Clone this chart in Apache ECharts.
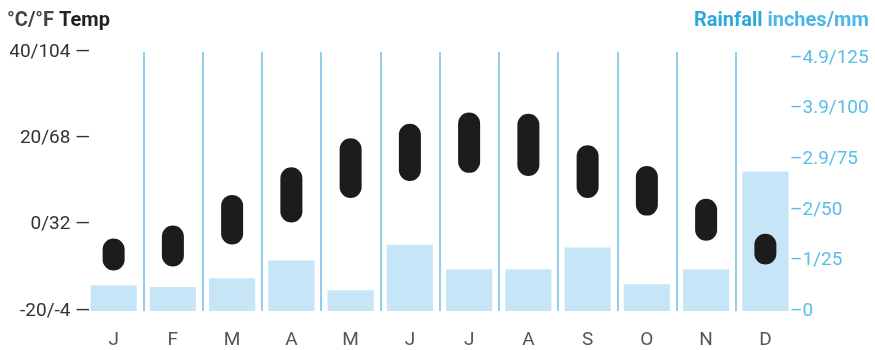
<!DOCTYPE html>
<html>
<head>
<meta charset="utf-8">
<script src="https://cdn.jsdelivr.net/npm/echarts@6/dist/echarts.min.js"></script>
<style>
  html, body { margin: 0; padding: 0; background: #fff; }
  #chart { width: 875px; height: 350px; }
</style>
</head>
<body>
<div id="chart"></div>
<script>
// months
const months = ['J', 'F', 'M', 'A', 'M', 'J', 'J', 'A', 'S', 'O', 'N', 'D'];
// temperature range, °C
const tempLow = [-10.6, -9.7, -4.6, 0.5, 6.2, 10.1, 12, 11.3, 6.2, 2.1, -3.7, -9.2];
const tempHigh = [-3.2, -0.2, 6.9, 13.3, 20, 23.4, 26, 25.7, 18.4, 13.6, 6, -2.1];
// rainfall, mm
const rainMm = [12.7, 11.8, 16.2, 25, 10.3, 32.8, 20.6, 20.6, 31.4, 13.2, 20.6, 69];
// tick labels
const tempTicksC = [-20, 0, 20, 40];
const tempTicksF = [-4, 32, 68, 104];
const rainTicksMm = [0, 25, 50, 75, 100, 125];
const rainTicksIn = ['0', '1', '2', '2.9', '3.9', '4.9'];

const font = 'Roboto, "Noto Sans", sans-serif';

const chart = echarts.init(document.getElementById('chart'));

chart.setOption({
  animation: false,
  title: [
    {
      left: 2,
      top: 6,
      text: '{a|°C/°F }{b|Temp}',
      textStyle: {
        rich: {
          a: { fontFamily: font, fontSize: 20, color: '#444' },
          b: { fontFamily: font, fontSize: 20, fontWeight: 'bold', color: '#222' }
        }
      }
    },
    {
      left: 689,
      top: 6,
      text: '{a|Rainfall }{b|inches/mm}',
      textStyle: {
        rich: {
          a: { fontFamily: font, fontSize: 20, fontWeight: 'bold', color: '#2ea7dc' },
          b: { fontFamily: font, fontSize: 20, color: '#4db6e6' }
        }
      }
    }
  ],
  grid: { left: 84, right: 80, top: 52, bottom: 37 },
  xAxis: {
    type: 'category',
    data: months,
    axisLine: { show: false },
    axisTick: { show: false },
    axisLabel: {
      margin: 20,
      fontFamily: font,
      fontSize: 19,
      color: '#555'
    },
    splitLine: {
      show: true,
      showMinLine: false,
      showMaxLine: false,
      lineStyle: { color: '#92cdea', width: 2 }
    }
  },
  yAxis: [
    {
      type: 'value',
      min: -20,
      max: 40,
      interval: 20,
      axisLine: { show: false },
      axisTick: { show: false },
      splitLine: { show: false },
      axisLabel: {
        margin: -6,
        fontFamily: font,
        fontSize: 19,
        color: '#333',
        formatter: v => {
          const i = tempTicksC.indexOf(v);
          return i < 0 ? '' : tempTicksC[i] + '/' + tempTicksF[i] + ' —';
        }
      }
    },
    {
      type: 'value',
      min: 0,
      max: 128,
      interval: 25,
      position: 'right',
      axisLine: { show: false },
      axisTick: { show: false },
      splitLine: { show: false },
      axisLabel: {
        margin: -5,
        fontFamily: font,
        fontSize: 19,
        color: '#5bbde8',
        formatter: v => {
          const i = rainTicksMm.indexOf(v);
          if (i < 0) return '';
          return i === 0 ? '–0' : '–' + rainTicksIn[i] + '/' + rainTicksMm[i];
        }
      }
    }
  ],
  series: [
    {
      name: 'Rainfall',
      type: 'bar',
      yAxisIndex: 1,
      data: rainMm,
      barWidth: '78%',
      itemStyle: { color: '#c6e6f8' },
      z: 1
    },
    {
      name: 'Temp',
      type: 'custom',
      yAxisIndex: 0,
      data: months.map((m, i) => [i, tempLow[i], tempHigh[i]]),
      encode: { x: 0, y: [1, 2] },
      renderItem: (params, api) => {
        const top = api.coord([api.value(0), api.value(2)]);
        const bot = api.coord([api.value(0), api.value(1)]);
        const w = 22;
        return {
          type: 'rect',
          shape: { x: top[0] - w / 2, y: top[1], width: w, height: bot[1] - top[1], r: w / 2 },
          style: { fill: '#1c1c1c' }
        };
      },
      z: 3
    }
  ]
});
</script>
</body>
</html>
